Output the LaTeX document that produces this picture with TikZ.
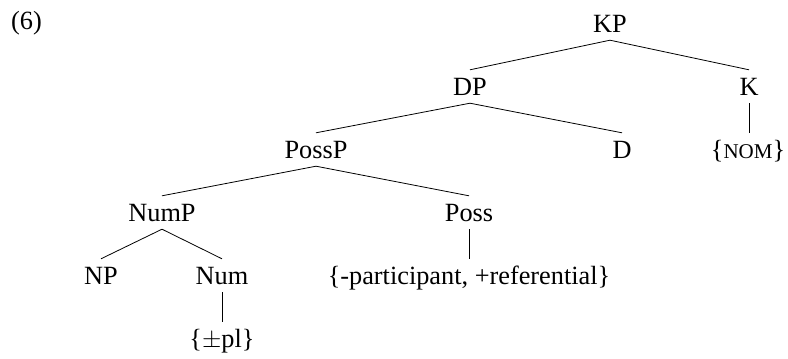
\documentclass[tikz,border=0pt]{standalone}
\usepackage{fontspec}
\setmainfont{Liberation Serif}

\begin{document}
\begin{tikzpicture}[
                x=1pt,y=-1pt,
                lbl/.style={anchor=base,inner xsep=0pt,inner ysep=5pt,
                    text height=20pt,text depth=3pt,
                    font=\fontsize{26.3}{30}\selectfont},
                branch/.style={line width=0.8pt}
            ]
                \useasboundingbox (0,0) rectangle (788,359);
                \def\nomcaps{{\fontsize{21}{24}\selectfont NOM}}
                \node[lbl,anchor=base west] (ex) at (11,29) {(6)};
                \node[lbl] (kp) at (610,32) {KP};
                \node[lbl] (dp) at (470,95) {DP};
                \node[lbl] (k) at (749,95) {K};
                \node[lbl] (possp) at (316,158) {PossP};
                \node[lbl] (d) at (622,158) {D};
                \node[lbl] (nom) at (748,158) {\{\nomcaps\}};
                \node[lbl] (nump) at (162,221) {NumP};
                \node[lbl] (poss) at (469,221) {Poss};
                \node[lbl] (np) at (101,284) {NP};
                \node[lbl] (num) at (222,284) {Num};
                \node[lbl] (feat) at (469,284) {\{-participant, +referential\}};
                \node[lbl] (pl) at (222,347) {\{$\pm$pl\}};
                \draw[branch] (kp.south) -- (dp.north);
                \draw[branch] (kp.south) -- (k.north);
                \draw[branch] (k.south) -- (nom.north -| k.south);
                \draw[branch] (dp.south) -- (possp.north);
                \draw[branch] (dp.south) -- (d.north);
                \draw[branch] (possp.south) -- (nump.north);
                \draw[branch] (possp.south) -- (poss.north);
                \draw[branch] (nump.south) -- (np.north);
                \draw[branch] (nump.south) -- (num.north);
                \draw[branch] (num.south) -- (pl.north);
                \draw[branch] (poss.south) -- (feat.north);
            \end{tikzpicture}
\end{document}
